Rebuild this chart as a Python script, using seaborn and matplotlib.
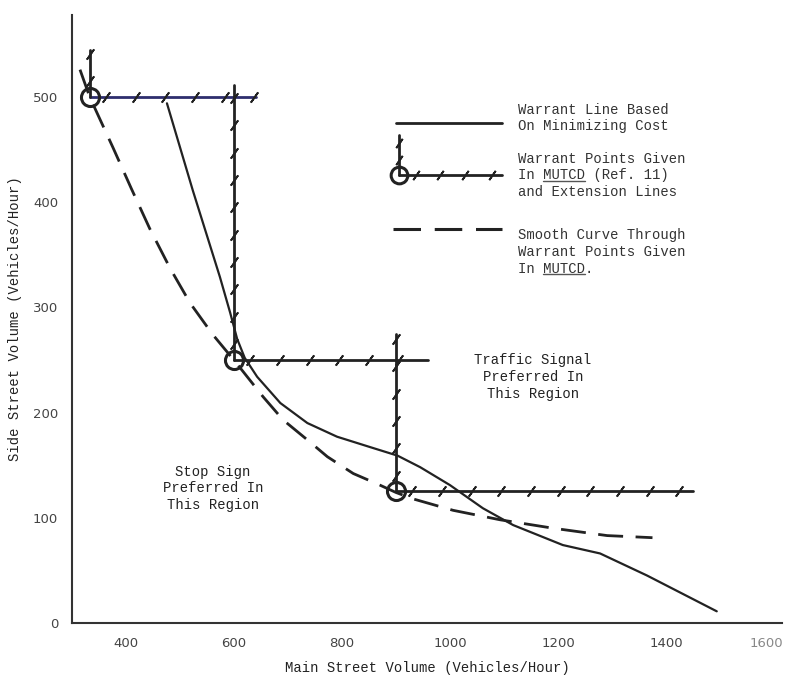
import numpy as np
import matplotlib
matplotlib.use("Agg")
import matplotlib.pyplot as plt
import matplotlib.transforms as mtransforms
from matplotlib.lines import Line2D
import seaborn as sns

# warrant line based on minimizing cost
cost_x = [476, 524, 574, 593, 606, 620, 643, 686, 736, 791, 853, 903, 945, 1000, 1061, 1117, 1209, 1278, 1365, 1494]
cost_y = [494, 411, 329, 295, 270, 252, 234, 209, 190, 177, 167, 159, 148, 131, 109, 93, 74, 66, 45, 11]

# smooth curve through MUTCD warrant points
smooth_x = [315, 333, 376, 410, 444, 482, 519, 561, 603, 654, 691, 736, 773, 821, 866, 900,
            931, 1006, 1093, 1191, 1291, 1375]
smooth_y = [526, 500, 452, 413, 375, 337, 304, 274, 248, 215, 193, 174, 158, 142, 132, 124,
            118, 107, 98, 90, 83, 81]

# MUTCD warrant points and their extension lines
warrant_x = [333, 600, 900]
warrant_y = [500, 250, 125]
ext_right = [640, 960, 1450]
ext_top = [545, 511, 275]
ext_colors = ["#2e2e6e", "#222222", "#222222"]

x_ticks = [400, 600, 800, 1000, 1200, 1400, 1600]
y_ticks = [0, 100, 200, 300, 400, 500]

sns.set_style("white")
plt.rcParams["font.family"] = ["Liberation Mono", "DejaVu Sans"]

INK = "#222222"
hatch = (2, 2, -35)

fig = plt.figure(figsize=(7.9, 6.8), dpi=100)
ax = fig.add_axes([0.091, 0.084, 0.899, 0.894])

sns.lineplot(x=cost_x, y=cost_y, ax=ax, color=INK, lw=1.6, sort=False)
sns.lineplot(x=smooth_x, y=smooth_y, ax=ax, color=INK, lw=2.0, sort=False,
             linestyle=(0, (9, 4.5)))

for px, py, xr, yt, c in zip(warrant_x, warrant_y, ext_right, ext_top, ext_colors):
	ax.plot([px, xr], [py, py], color=c, lw=2.0)
	ax.plot([px, px], [py, yt], color=INK, lw=2.0)
	hx = np.arange(px + 30, xr, 55)
	ax.plot(hx, [py] * len(hx), ls="none", marker=hatch, ms=9, mew=1.3, color=INK)
	hy = np.arange(py + 15, yt, 26)
	ax.plot([px] * len(hy), hy, ls="none", marker=hatch, ms=9, mew=1.3, color=INK)

ax.plot(warrant_x, warrant_y, ls="none", marker="o", ms=13, mfc="none", mew=2.2, color=INK)

# legend drawn in axes fraction
tr = ax.transAxes
ax.plot([0.456, 0.605], [0.823, 0.823], transform=tr, color=INK, lw=2.0)
ax.plot([0.460, 0.605], [0.736, 0.736], transform=tr, color=INK, lw=2.0)
ax.plot([0.460, 0.460], [0.736, 0.803], transform=tr, color=INK, lw=2.0)
ax.plot([0.460], [0.736], transform=tr, marker="o", ms=12, mfc="none", mew=2.2, color=INK)
ax.plot([0.485, 0.518, 0.553, 0.591], [0.736] * 4, transform=tr, ls="none",
        marker=hatch, ms=8, mew=1.3, color=INK)
ax.plot([0.460, 0.460], [0.762, 0.790], transform=tr, ls="none",
        marker=hatch, ms=8, mew=1.3, color=INK)
ax.plot([0.452, 0.605], [0.648, 0.648], transform=tr, color=INK, lw=2.2,
        linestyle=(0, (9, 4.5)))

leg_kw = dict(transform=tr, ha="left", va="top", fontsize=10, color="#333333", linespacing=1.25)
t1 = ax.text(0.628, 0.856, "Warrant Line Based\nOn Minimizing Cost", **leg_kw)
t2 = ax.text(0.628, 0.775, "Warrant Points Given\nIn MUTCD (Ref. 11)\nand Extension Lines", **leg_kw)
t3 = ax.text(0.628, 0.649, "Smooth Curve Through\nWarrant Points Given\nIn MUTCD.", **leg_kw)

ax.text(561, 128, "Stop Sign\nPreferred In\nThis Region", ha="center", va="center",
        fontsize=10, color=INK, linespacing=1.25)
ax.text(1154, 234, "Traffic Signal\nPreferred In\nThis Region", ha="center", va="center",
        fontsize=10, color=INK, linespacing=1.25)

ax.set_xlim(300, 1615)
ax.set_ylim(0, 578)
ax.set_xticks(x_ticks)
ax.set_yticks(y_ticks)
ax.set_xticklabels([str(v) for v in x_ticks], fontfamily="DejaVu Sans", fontsize=9.5, color="#444444")
ax.set_yticklabels([str(v) for v in y_ticks], fontfamily="DejaVu Sans", fontsize=9.5, color="#444444")
ax.tick_params(direction="inout", length=8, width=1.3, color="#333333", pad=6)
# last x label sits a little left of its tick, as in the scan
last = ax.get_xticklabels()[-1]
last.set_color("#888888")
last.set_transform(last.get_transform() + mtransforms.ScaledTranslation(-8 / 100, 0, fig.dpi_scale_trans))
sns.despine(ax=ax)
for s in ("left", "bottom"):
	ax.spines[s].set_linewidth(1.5)
	ax.spines[s].set_color("#333333")

ax.set_xlabel("Main Street Volume (Vehicles/Hour)", fontsize=10, color=INK, labelpad=8)
ax.set_ylabel("Side Street Volume (Vehicles/Hour)", fontsize=10, color=INK, labelpad=8)


def underline(txt, line_idx, start, n):
	"""underline n monospace chars of one line of a multiline text"""
	fig.canvas.draw()
	lines = txt.get_text().split("\n")
	bb = txt.get_window_extent(fig.canvas.get_renderer())
	cw = bb.width / max(len(s) for s in lines)
	lh = bb.height / len(lines)
	y = bb.y1 - (line_idx + 1) * lh + 2
	x0 = bb.x0 + start * cw
	inv = fig.transFigure.inverted()
	(fx0, fy), (fx1, _) = inv.transform([(x0, y), (x0 + n * cw, y)])
	fig.add_artist(Line2D([fx0, fx1], [fy, fy], color="#555555", lw=1.0))


underline(t2, 1, 3, 5)
underline(t3, 2, 3, 5)

fig.savefig("out.png", dpi=100, facecolor="white")
